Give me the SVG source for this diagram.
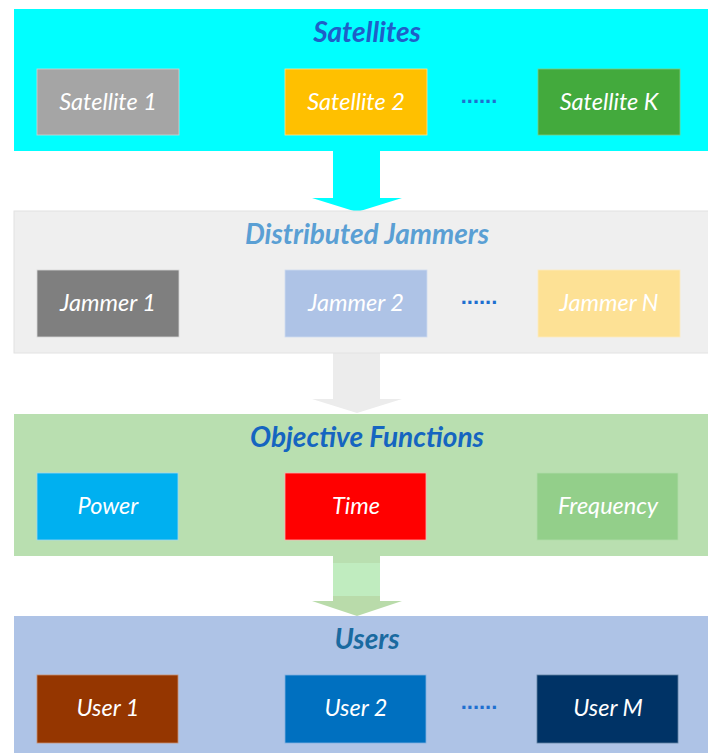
<svg xmlns="http://www.w3.org/2000/svg" width="708" height="753" viewBox="0 0 708 753">
<style>
.lbl{font-family:Lato,"Open Sans","Liberation Sans",sans-serif;font-style:italic;font-size:23.5px;fill:#ffffff;text-anchor:middle}
.ttl{font-family:Lato,"Open Sans","Liberation Sans",sans-serif;font-style:italic;font-weight:bold;font-size:28px;text-anchor:middle}
.dots{font-family:"Liberation Sans",sans-serif;font-weight:bold;font-size:22px;text-anchor:middle}
</style>
<rect width="708" height="753" fill="#ffffff"/>
<g id="connectors">
<polygon points="333,151 380,151 380,198 402,198 357,212 312,198 333,198" fill="#00ffff"/>
<polygon points="333,353 380,353 380,399 402,399 357,413 312,399 333,399" fill="#ececec"/>
<rect x="333" y="556" width="47" height="45" fill="#c0ecbf"/>
<rect x="333" y="556" width="47" height="7" fill="#b9dfb0"/>
<polygon points="333,596 380,596 380,601 402,601 357,616 312,601 333,601" fill="#b9dbaa"/>
</g>
<g id="satellites">
<rect x="14" y="9" width="700" height="142" fill="#00ffff"/>
<text class="ttl" x="367" y="42" fill="#1f5fc8">Satellites</text>
<g id="sat1"><rect x="37" y="69" width="142" height="66" fill="#a5a5a5" stroke="#d0d0d0" stroke-width="0.8"/><text class="lbl" x="108" y="110">Satellite 1</text></g>
<g id="sat2"><rect x="285" y="69" width="142" height="66" fill="#ffc000" stroke="#ffe090" stroke-width="0.8"/><text class="lbl" x="356" y="110">Satellite 2</text></g>
<text class="dots" x="479" y="103" fill="#1f6fd0">......</text>
<g id="satK"><rect x="538" y="69" width="142" height="66" fill="#43aa3d" stroke="#80c880" stroke-width="0.8"/><text class="lbl" x="609" y="110">Satellite K</text></g>
</g>
<g id="jammers">
<rect x="14" y="211" width="700" height="142" fill="#efefef" stroke="#e2e2e2" stroke-width="1"/>
<text class="ttl" x="367" y="244" fill="#5a9fd4">Distributed Jammers</text>
<g id="jam1"><rect x="37" y="270" width="142" height="67" fill="#7f7f7f" stroke="#d8d8d8" stroke-width="0.8"/><text class="lbl" x="108" y="311">Jammer 1</text></g>
<g id="jam2"><rect x="285" y="270" width="142" height="67" fill="#aec3e6" stroke="#d0dcf0" stroke-width="0.8"/><text class="lbl" x="356" y="311">Jammer 2</text></g>
<text class="dots" x="479" y="304" fill="#1f6fd0">......</text>
<g id="jamN"><rect x="538" y="270" width="142" height="67" fill="#fde195" stroke="#fdecc0" stroke-width="0.8"/><text class="lbl" x="609" y="311">Jammer N</text></g>
</g>
<g id="objectives">
<rect x="14" y="414" width="700" height="142" fill="#b9dfb0"/>
<text class="ttl" x="367" y="447" fill="#1565c0">Objective Functions</text>
<g id="power"><rect x="37" y="473" width="141" height="67" fill="#00b0f0" stroke="#a0d8f0" stroke-width="0.8"/><text class="lbl" x="108" y="514">Power</text></g>
<g id="time"><rect x="285" y="473" width="141" height="67" fill="#ff0000" stroke="#ffb0b0" stroke-width="0.8"/><text class="lbl" x="356" y="514">Time</text></g>
<g id="freq"><rect x="537" y="473" width="141" height="67" fill="#93cf8a" stroke="#b0dca8" stroke-width="0.8"/><text class="lbl" x="608" y="514">Frequency</text></g>
</g>
<g id="users">
<rect x="14" y="616" width="700" height="142" fill="#aec3e6"/>
<text class="ttl" x="367" y="649" fill="#1a6aa0">Users</text>
<g id="user1"><rect x="37" y="675" width="141" height="68" fill="#953600" stroke="#c89070" stroke-width="0.8"/><text class="lbl" x="108" y="716">User 1</text></g>
<g id="user2"><rect x="285" y="675" width="141" height="68" fill="#0070c0" stroke="#80b0e0" stroke-width="0.8"/><text class="lbl" x="356" y="716">User 2</text></g>
<text class="dots" x="479" y="709" fill="#1f6fd0">......</text>
<g id="userM"><rect x="537" y="675" width="141" height="68" fill="#003366" stroke="#6080a0" stroke-width="0.8"/><text class="lbl" x="608" y="716">User M</text></g>
</g>
</svg>
